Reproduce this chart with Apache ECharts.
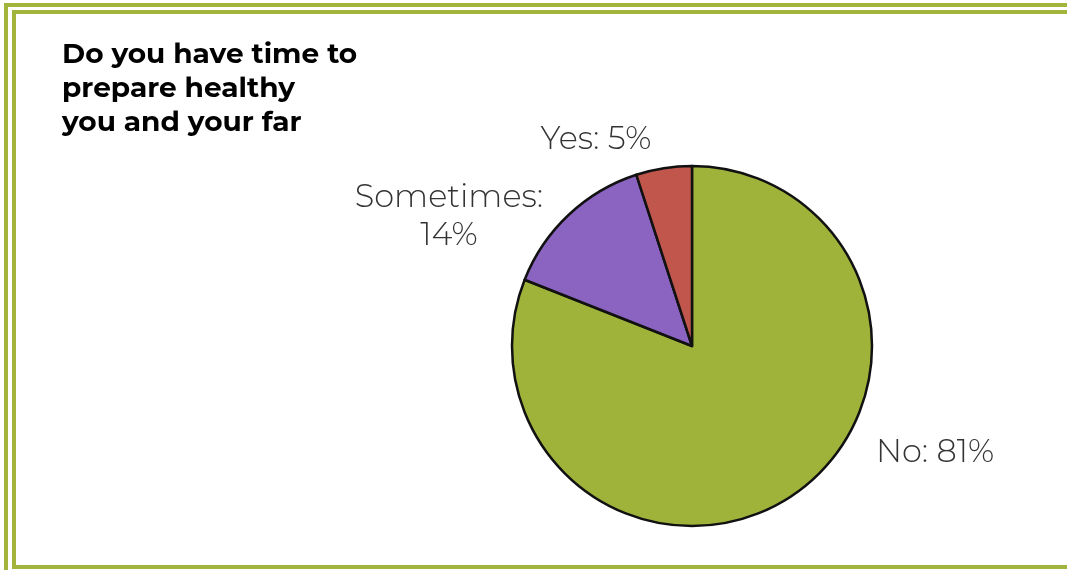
<!DOCTYPE html>
<html>
<head>
<meta charset="utf-8">
<script src="https://cdn.jsdelivr.net/npm/echarts@6/dist/echarts.min.js"></script>
<style>
html,body{margin:0;padding:0;background:#fff;}
#chart{width:1067px;height:570px;}
</style>
</head>
<body>
<div id="chart"></div>
<script>
var titleLines = ['Do you have time to', 'prepare healthy', 'you and your far'];
var categories = ['No', 'Sometimes', 'Yes'];
var values = [81, 14, 5];
var labelTexts = ['No: 81%', 'Sometimes:\n14%', 'Yes: 5%'];
var colors = ['#9fb23a', '#8a64c0', '#c1564d'];

var labelPos = [[935, 453], [449, 217], [596, 140]];
var borderColor = '#a2b43c';

var chart = echarts.init(document.getElementById('chart'));
chart.setOption({
  animation: false,
  backgroundColor: '#ffffff',
  title: {
    text: titleLines.join('\n'),
    left: 57,
    top: 33,
    textStyle: {
      fontFamily: 'Montserrat, "Open Sans", sans-serif',
      fontWeight: 'bold',
      fontSize: 28,
      lineHeight: 34,
      color: '#000000'
    }
  },
  graphic: [
    {type: 'rect', shape: {x: 4, y: 3, width: 1063, height: 4}, style: {fill: borderColor}, silent: true},
    {type: 'rect', shape: {x: 4, y: 3, width: 4, height: 567}, style: {fill: borderColor}, silent: true},
    {type: 'rect', shape: {x: 12, y: 10, width: 1055, height: 4}, style: {fill: borderColor}, silent: true},
    {type: 'rect', shape: {x: 12, y: 10, width: 4, height: 559}, style: {fill: borderColor}, silent: true},
    {type: 'rect', shape: {x: 12, y: 565, width: 1055, height: 4}, style: {fill: borderColor}, silent: true}
  ],
  series: [{
    type: 'pie',
    center: [692, 346],
    radius: 180,
    startAngle: 90,
    clockwise: true,
    silent: true,
    emphasis: {disabled: true},
    itemStyle: {borderColor: '#111111', borderWidth: 2.5},
    label: {
      show: true,
      formatter: function (p) { return labelTexts[p.dataIndex]; },
      fontFamily: 'Montserrat, Lato, sans-serif',
      fontWeight: 300,
      fontSize: 32,
      lineHeight: 38,
      color: '#333333',
      align: 'center'
    },
    labelLine: {show: false},
    labelLayout: function (params) {
      var p = labelPos[params.dataIndex];
      return {x: p[0], y: p[1], align: 'center', verticalAlign: 'middle'};
    },
    data: categories.map(function (c, i) {
      return {name: c, value: values[i], itemStyle: {color: colors[i]}};
    })
  }]
});
</script>
</body>
</html>
